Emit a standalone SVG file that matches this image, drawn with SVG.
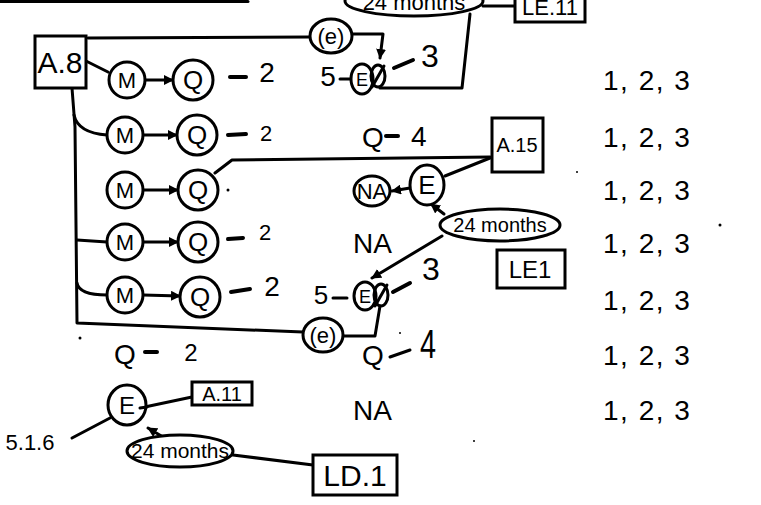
<svg xmlns="http://www.w3.org/2000/svg" width="761" height="505" viewBox="0 0 761 505">
<style>
.ln{stroke:#000;stroke-width:3;fill:none;stroke-linecap:round;stroke-linejoin:round}
.th{stroke:#000;stroke-width:4;fill:none;stroke-linecap:round}
.c{fill:#fff;stroke:#000;stroke-width:3}
.bx{fill:#fff;stroke:#000;stroke-width:3}
.ty{font-family:"Liberation Sans",Arial,sans-serif;font-size:28px;fill:#000}
.col{font-family:"Liberation Sans",Arial,sans-serif;font-size:28px;letter-spacing:1.5px;fill:#000}
.hd{font-family:"Liberation Sans",Arial,sans-serif;fill:#000;text-anchor:middle}
.dot{fill:#000}
</style>
<defs>
<marker id="ar" viewBox="0 0 10 10" refX="9" refY="5" markerWidth="10" markerHeight="10" markerUnits="userSpaceOnUse" orient="auto">
<path d="M0,0 L10,5 L0,10 Z" fill="#000"/>
</marker>
</defs>
<rect width="761" height="505" fill="#fff"/>

<g id="connectors">
<line class="ln" x1="0" y1="1.5" x2="248" y2="1.5"/>
<line class="ln" x1="483" y1="6" x2="515" y2="6"/>
<polyline class="ln" points="470,14 462,88 380,88"/>
<line class="ln" x1="88" y1="38" x2="310" y2="37"/>
<polyline class="ln" points="353,34 383,34 380,58" marker-end="url(#ar)"/>
<line class="ln" x1="86" y1="61" x2="108" y2="72"/>
<path class="ln" d="M72,88 L75,127 L77,323 L303,332"/>
<path class="ln" d="M74,115 Q78,133 107,135"/>
<line class="ln" x1="77" y1="240" x2="107" y2="242"/>
<path class="ln" d="M77,283 Q79,295 107,295"/>
<line class="ln" x1="143" y1="80" x2="173" y2="80" marker-end="url(#ar)"/>
<line class="ln" x1="143" y1="135" x2="177" y2="135" marker-end="url(#ar)"/>
<line class="ln" x1="143" y1="190" x2="178" y2="190" marker-end="url(#ar)"/>
<line class="ln" x1="143" y1="242" x2="178" y2="242" marker-end="url(#ar)"/>
<line class="ln" x1="143" y1="295" x2="180" y2="296" marker-end="url(#ar)"/>
<polyline class="ln" points="215,173 232,160 490,157"/>
<line class="ln" x1="490" y1="158" x2="445" y2="176"/>
<line class="ln" x1="410" y1="188" x2="392" y2="191" marker-end="url(#ar)"/>
<line class="ln" x1="444" y1="214" x2="431" y2="204" marker-end="url(#ar)"/>
<line class="ln" x1="442" y1="236" x2="372" y2="278" marker-end="url(#ar)"/>
<polyline class="ln" points="343,336 375,336 380,306"/>
<line class="ln" x1="72" y1="438" x2="110" y2="418"/>
<line class="ln" x1="140" y1="408" x2="192" y2="397"/>
<line class="ln" x1="163" y1="437" x2="148" y2="428" marker-end="url(#ar)"/>
<line class="ln" x1="233" y1="455" x2="313" y2="465"/>
</g>

<g id="top-24months">
<ellipse class="c" cx="414" cy="1" rx="69" ry="15"/>
<text class="hd" x="414" y="10" font-size="22">24 months</text>
</g>
<g id="box-le11">
<rect class="bx" x="515" y="-5" width="70" height="27"/>
<text class="hd" x="550" y="15" font-size="22">LE.11</text>
</g>

<g id="box-a8">
<rect class="bx" x="35" y="36" width="51" height="52"/>
<text class="hd" x="60" y="73" font-size="30">A.8</text>
</g>

<g id="e-top">
<ellipse class="c" cx="331" cy="36" rx="21" ry="17"/>
<text class="hd" x="331" y="44" font-size="22">(e)</text>
</g>

<g id="row1">
<circle class="c" cx="127" cy="80" r="18"/><text class="hd" x="127" y="88" font-size="22">M</text>
<circle class="c" cx="193" cy="80" r="20"/><text class="hd" x="193" y="89" font-size="26">Q</text>
<line class="th" x1="230" y1="77" x2="246" y2="77"/><text class="hd" x="267" y="82" font-size="28">2</text>
<text class="hd" x="328" y="86" font-size="28">5</text><line class="ln" x1="340" y1="79" x2="350" y2="79"/>
<ellipse class="c" cx="362" cy="79" rx="11" ry="15"/><text class="hd" x="362" y="86" font-size="18">E</text>
<ellipse class="ln" cx="378" cy="76" rx="7" ry="11"/><line class="ln" x1="372" y1="87" x2="384" y2="66"/>
<line class="th" x1="394" y1="68" x2="413" y2="60"/><text class="hd" x="430" y="67" font-size="32">3</text>
</g>

<g id="row2">
<circle class="c" cx="125" cy="135" r="18"/><text class="hd" x="125" y="143" font-size="22">M</text>
<circle class="c" cx="197" cy="135" r="20"/><text class="hd" x="197" y="144" font-size="26">Q</text>
<line class="th" x1="228" y1="135" x2="246" y2="134"/><text class="hd" x="266" y="141" font-size="22">2</text>
<text class="ty" x="362" y="147">Q</text><line class="th" x1="386" y1="136" x2="398" y2="136"/><text class="ty" x="411" y="146">4</text>
</g>

<g id="row3">
<circle class="c" cx="125" cy="190" r="18"/><text class="hd" x="125" y="198" font-size="22">M</text>
<circle class="c" cx="198" cy="190" r="20"/><text class="hd" x="198" y="199" font-size="26">Q</text>
<circle class="dot" cx="228" cy="190" r="1.5"/>
<ellipse class="c" cx="372" cy="191" rx="18" ry="15"/><text class="hd" x="372" y="199" font-size="22">NA</text>
<ellipse class="c" cx="427" cy="185" rx="17" ry="20"/><text class="hd" x="427" y="194" font-size="26">E</text>
</g>

<g id="box-a15">
<rect class="bx" x="492" y="118" width="51" height="54"/>
<text class="hd" x="517" y="152" font-size="20">A.15</text>
</g>

<g id="mid-24months">
<ellipse class="c" cx="500" cy="225" rx="60" ry="16"/>
<text class="hd" x="500" y="232" font-size="20">24 months</text>
</g>

<g id="box-le1">
<rect class="bx" x="497" y="250" width="68" height="38"/>
<text class="hd" x="530" y="278" font-size="24">LE1</text>
</g>

<g id="row4">
<circle class="c" cx="125" cy="242" r="18"/><text class="hd" x="125" y="250" font-size="22">M</text>
<circle class="c" cx="198" cy="242" r="20"/><text class="hd" x="198" y="251" font-size="26">Q</text>
<line class="th" x1="228" y1="239" x2="243" y2="238"/><text class="hd" x="265" y="240" font-size="22">2</text>
<text class="ty" x="353" y="253">NA</text>
</g>

<g id="row5">
<circle class="c" cx="125" cy="295" r="18"/><text class="hd" x="125" y="303" font-size="22">M</text>
<circle class="c" cx="200" cy="297" r="20"/><text class="hd" x="200" y="306" font-size="26">Q</text>
<line class="th" x1="231" y1="292" x2="250" y2="289"/><text class="hd" x="272" y="296" font-size="28">2</text>
<text class="hd" x="321" y="304" font-size="26">5</text><line class="ln" x1="333" y1="298" x2="347" y2="298"/>
<ellipse class="c" cx="365" cy="296" rx="11" ry="14"/><text class="hd" x="365" y="303" font-size="18">E</text>
<ellipse class="ln" cx="381" cy="295" rx="7" ry="11"/><line class="ln" x1="375" y1="306" x2="387" y2="285"/>
<line class="th" x1="393" y1="292" x2="410" y2="283"/><text class="hd" x="431" y="280" font-size="32">3</text>
</g>

<g id="e-bottom">
<ellipse class="c" cx="323" cy="335" rx="20" ry="17"/>
<text class="hd" x="323" y="343" font-size="22">(e)</text>
</g>

<g id="row6">
<text class="ty" x="114" y="364">Q</text><line class="th" x1="145" y1="352" x2="157" y2="352"/><text class="hd" x="191" y="361" font-size="24">2</text>
<text class="ty" x="362" y="365">Q</text><line class="ln" x1="390" y1="357" x2="410" y2="350" stroke-width="5"/>
<text class="hd" font-size="40" transform="translate(428,358) scale(0.72,1)">4</text>
</g>

<g id="row7">
<text class="hd" x="30" y="450" font-size="22">5.1.6</text>
<ellipse class="c" cx="127" cy="405" rx="19" ry="20"/><text class="hd" x="127" y="414" font-size="24">E</text>
<line class="ln" x1="140" y1="408" x2="147" y2="407"/>
<text class="ty" x="353" y="420">NA</text>
</g>

<g id="box-a11">
<rect class="bx" x="192" y="382" width="60" height="23"/>
<text class="hd" x="222" y="401" font-size="20">A.11</text>
</g>

<g id="low-24months">
<ellipse class="c" cx="180" cy="451" rx="53" ry="16"/>
<text class="hd" x="180" y="458" font-size="21">24 months</text>
</g>

<g id="box-ld1">
<rect class="bx" x="313" y="455" width="84" height="40"/>
<text class="hd" x="355" y="486" font-size="30">LD.1</text>
</g>

<g id="column">
<text class="col" x="603" y="90">1, 2, 3</text>
<text class="col" x="603" y="147">1, 2, 3</text>
<text class="col" x="603" y="200">1, 2, 3</text>
<text class="col" x="603" y="253">1, 2, 3</text>
<text class="col" x="603" y="310">1, 2, 3</text>
<text class="col" x="603" y="365">1, 2, 3</text>
<text class="col" x="603" y="420">1, 2, 3</text>
</g>

<g id="specks">
<circle class="dot" cx="80" cy="338" r="1.5"/>
<circle class="dot" cx="720" cy="225" r="1.5"/>
<circle class="dot" cx="474" cy="441" r="1"/>
<circle class="dot" cx="577" cy="172" r="1"/>
<circle class="dot" cx="400" cy="333" r="1"/>
</g>
</svg>
